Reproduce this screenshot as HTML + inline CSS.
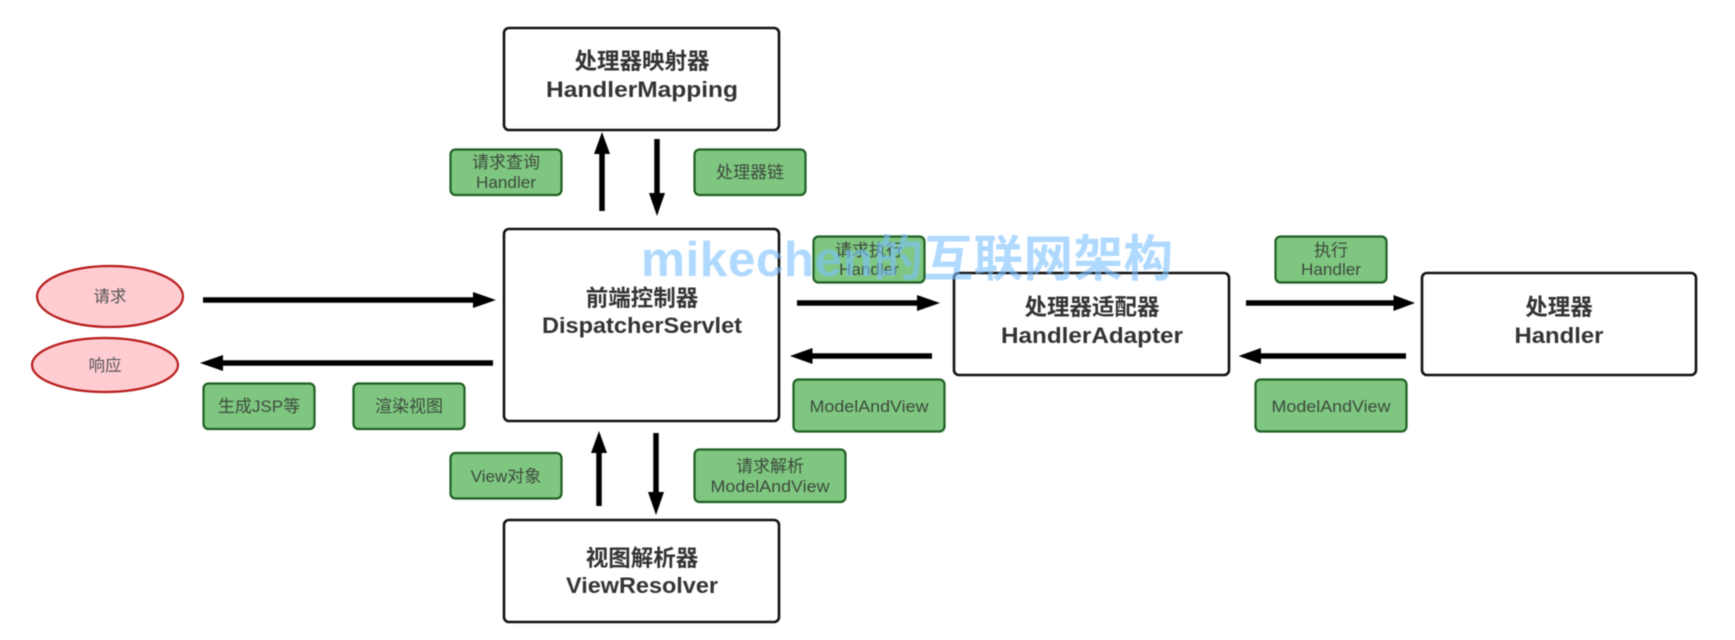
<!DOCTYPE html>
<html lang="zh">
<head>
<meta charset="utf-8">
<title>SpringMVC</title>
<style>
html,body{margin:0;padding:0;background:#fff;width:1735px;height:640px;overflow:hidden}
svg{display:block;position:absolute;left:0;top:0}
#d{filter:blur(.45px)}
text{font-family:"Liberation Sans","Noto Sans CJK SC",sans-serif;text-anchor:middle;fill:#3a3a3a}
.t{font-size:22.5px;font-weight:700;fill:#333}
.l{font-size:17px;fill:#3d4a3d}
.e{font-size:16.5px;fill:#555}
.g{fill:#7fc781;stroke:#1f5f24;stroke-width:2.2}
.b{fill:#fff;stroke:#111;stroke-width:2.6}
.p{fill:#ffccd2;stroke:#b71c1c;stroke-width:2.2}
.a{stroke:#000;stroke-width:5.5;fill:none}
.w{font-size:49.5px;font-weight:700;fill:#7cc0ff;fill-opacity:.6}
</style>
</head>
<body>
<svg id="d" width="1735" height="640" viewBox="0 0 1735 640" xmlns="http://www.w3.org/2000/svg">
<!-- boxes -->
<rect class="b" x="504" y="28" width="275" height="102" rx="5"/>
<rect class="b" x="504" y="229" width="275" height="192" rx="5"/>
<rect class="b" x="504" y="520" width="275" height="102" rx="5"/>
<rect class="b" x="954" y="273" width="275" height="102" rx="5"/>
<rect class="b" x="1422" y="273" width="274" height="102" rx="5"/>
<!-- ellipses -->
<ellipse class="p" cx="110" cy="296.500" rx="73" ry="30.500"/>
<ellipse class="p" cx="105" cy="365" rx="73" ry="27"/>
<!-- green labels -->
<rect class="g" x="450.500" y="149.500" width="111" height="45.500" rx="5"/>
<rect class="g" x="694.500" y="149.500" width="111" height="45.500" rx="5"/>
<rect class="g" x="813.500" y="236.500" width="111" height="46" rx="5"/>
<rect class="g" x="1275.500" y="236.500" width="111" height="46" rx="5"/>
<rect class="g" x="203.500" y="383.500" width="111" height="45.500" rx="5"/>
<rect class="g" x="353.500" y="383.500" width="111" height="45.500" rx="5"/>
<rect class="g" x="793.500" y="379.500" width="151" height="52" rx="5"/>
<rect class="g" x="1255.500" y="379.500" width="151" height="52" rx="5"/>
<rect class="g" x="450.500" y="453" width="111" height="45.500" rx="5"/>
<rect class="g" x="694.500" y="449.500" width="151" height="52.500" rx="5"/>
<!-- arrows -->
<line class="a" x1="203" y1="300" x2="475" y2="300"/><polygon points="473,292 496,300 473,308"/>
<line class="a" x1="493" y1="363" x2="221" y2="363"/><polygon points="223,355 200,363 223,371"/>
<line class="a" x1="602" y1="211" x2="602" y2="152"/><polygon points="594,154 602,132 610,154"/>
<line class="a" x1="657" y1="139" x2="657" y2="195"/><polygon points="649,193 657,216 665,193"/>
<line class="a" x1="599" y1="506" x2="599" y2="451"/><polygon points="591,453 599,431 607,453"/>
<line class="a" x1="656" y1="433" x2="656" y2="494"/><polygon points="648,492 656,515 664,492"/>
<line class="a" x1="797" y1="303" x2="919" y2="303"/><polygon points="917,295 940,303 917,311"/>
<line class="a" x1="932" y1="356" x2="810" y2="356"/><polygon points="812.500,348 790,356 812.500,364"/>
<line class="a" x1="1246" y1="303" x2="1396" y2="303"/><polygon points="1393.500,295 1415,303 1393.500,311"/>
<line class="a" x1="1406" y1="356" x2="1259" y2="356"/><polygon points="1261,348 1238.500,356 1261,364"/>
<!-- box titles -->
<text class="t" x="642" y="69">处理器映射器</text>
<text class="t" x="642" y="97" textLength="192" lengthAdjust="spacingAndGlyphs">HandlerMapping</text>
<text class="t" x="642" y="306">前端控制器</text>
<text class="t" x="642" y="333" textLength="200" lengthAdjust="spacingAndGlyphs">DispatcherServlet</text>
<text class="t" x="642" y="566">视图解析器</text>
<text class="t" x="642" y="593" textLength="152" lengthAdjust="spacingAndGlyphs">ViewResolver</text>
<text class="t" x="1092" y="315">处理器适配器</text>
<text class="t" x="1092" y="343" textLength="182" lengthAdjust="spacingAndGlyphs">HandlerAdapter</text>
<text class="t" x="1559" y="315">处理器</text>
<text class="t" x="1559" y="343" textLength="89" lengthAdjust="spacingAndGlyphs">Handler</text>
<!-- ellipse labels -->
<text class="e" x="110" y="302">请求</text>
<text class="e" x="105" y="371">响应</text>
<!-- green label text -->
<text class="l" x="506" y="168">请求查询</text>
<text class="l" x="506" y="188" textLength="60" lengthAdjust="spacingAndGlyphs">Handler</text>
<text class="l" x="750" y="178">处理器链</text>
<text class="l" x="869" y="256">请求执行</text>
<text class="l" x="869" y="275" textLength="60" lengthAdjust="spacingAndGlyphs">Handler</text>
<text class="l" x="1331" y="256">执行</text>
<text class="l" x="1331" y="275" textLength="60" lengthAdjust="spacingAndGlyphs">Handler</text>
<text class="l" x="259" y="412">生成JSP等</text>
<text class="l" x="409" y="412">渲染视图</text>
<text class="l" x="869" y="412" textLength="119" lengthAdjust="spacingAndGlyphs">ModelAndView</text>
<text class="l" x="1331" y="412" textLength="119" lengthAdjust="spacingAndGlyphs">ModelAndView</text>
<text class="l" x="506" y="482">View对象</text>
<text class="l" x="770" y="472">请求解析</text>
<text class="l" x="770" y="492" textLength="119" lengthAdjust="spacingAndGlyphs">ModelAndView</text>
<!-- watermark -->
<text class="w" x="907" y="276" textLength="532">mikechen的互联网架构</text>
</svg>
</body>
</html>
